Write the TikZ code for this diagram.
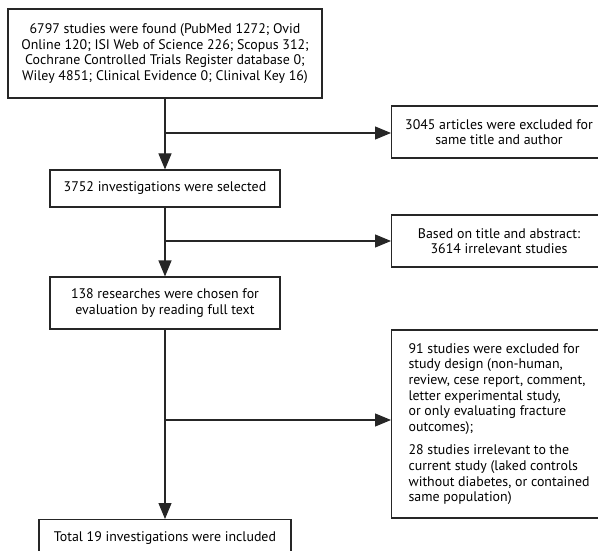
\documentclass[tikz,border=0pt]{standalone}
\usepackage{fontspec}
\setmainfont{PT Sans}
\usepackage{tikz}
\usetikzlibrary{positioning,arrows.meta}

\begin{document}
\begin{tikzpicture}[x=1pt, y=-1pt,
    box/.style={draw=black!85, line width=1.1pt, inner xsep=4pt, inner ysep=3pt,
      font=\fontsize{13.9}{15.6}\selectfont},
    flow/.style={draw=black!85, line width=1.1pt, -{Triangle[length=16pt,width=13pt]}}]
  \clip (0,0) rectangle (598,551);

  % main column
  \node[box, minimum width=314pt, minimum height=89pt, align=center] (found) at (165, 53.5)
    {6797 studies were found (PubMed 1272; Ovid\\
     Online 120; ISI Web of Science 226; Scopus 312;\\
     Cochrane Controlled Trials Register database 0;\\
     Wiley 4851; Clinical Evidence 0; Clinival Key 16)};
  \node[box, minimum width=230pt, minimum height=37pt, align=center] (selected) at (165, 188.5)
    {3752 investigations were selected};
  \node[box, minimum width=230pt, minimum height=52pt, align=center] (chosen) at (165, 303)
    {138 researches were chosen for\\ evaluation by reading full text};
  \node[box, minimum width=252pt, minimum height=36pt, anchor=north, align=center] (included) at (165, 519)
    {Total 19 investigations were included};

  % excluded column
  \node[box, anchor=west, minimum width=215pt, minimum height=52pt, align=center] (same) at (391, 132)
    {3045 articles were excluded for\\ same title and author};
  \node[box, anchor=west, minimum width=215pt, minimum height=52pt, align=center] (abstract) at (391, 241)
    {Based on title and abstract:\\ 3614 irrelevant studies};
  \node[box, anchor=west, minimum width=215pt, minimum height=188pt, align=left, inner xsep=5pt] (excluded) at (391, 424)
    {91 studies were excluded for\\
     study design (non-human,\\
     review, cese report, comment,\\
     letter experimental study,\\
     or only evaluating fracture\\
     outcomes);\\[8pt]
     28 studies irrelevant to the\\
     current study (laked controls\\
     without diabetes, or contained\\
     same population)};

  % branch points
  \coordinate (b1) at (165, 133);
  \coordinate (b2) at (165, 241);
  \coordinate (b3) at (165, 420);

  \draw[flow] (found) -- (selected);
  \draw[flow] (selected) -- (chosen);
  \draw[flow] (chosen) -- (included);
  \draw[flow] (b1) -- (b1 -| same.west);
  \draw[flow] (b2) -- (b2 -| abstract.west);
  \draw[flow] (b3) -- (b3 -| excluded.west);
\end{tikzpicture}
\end{document}
